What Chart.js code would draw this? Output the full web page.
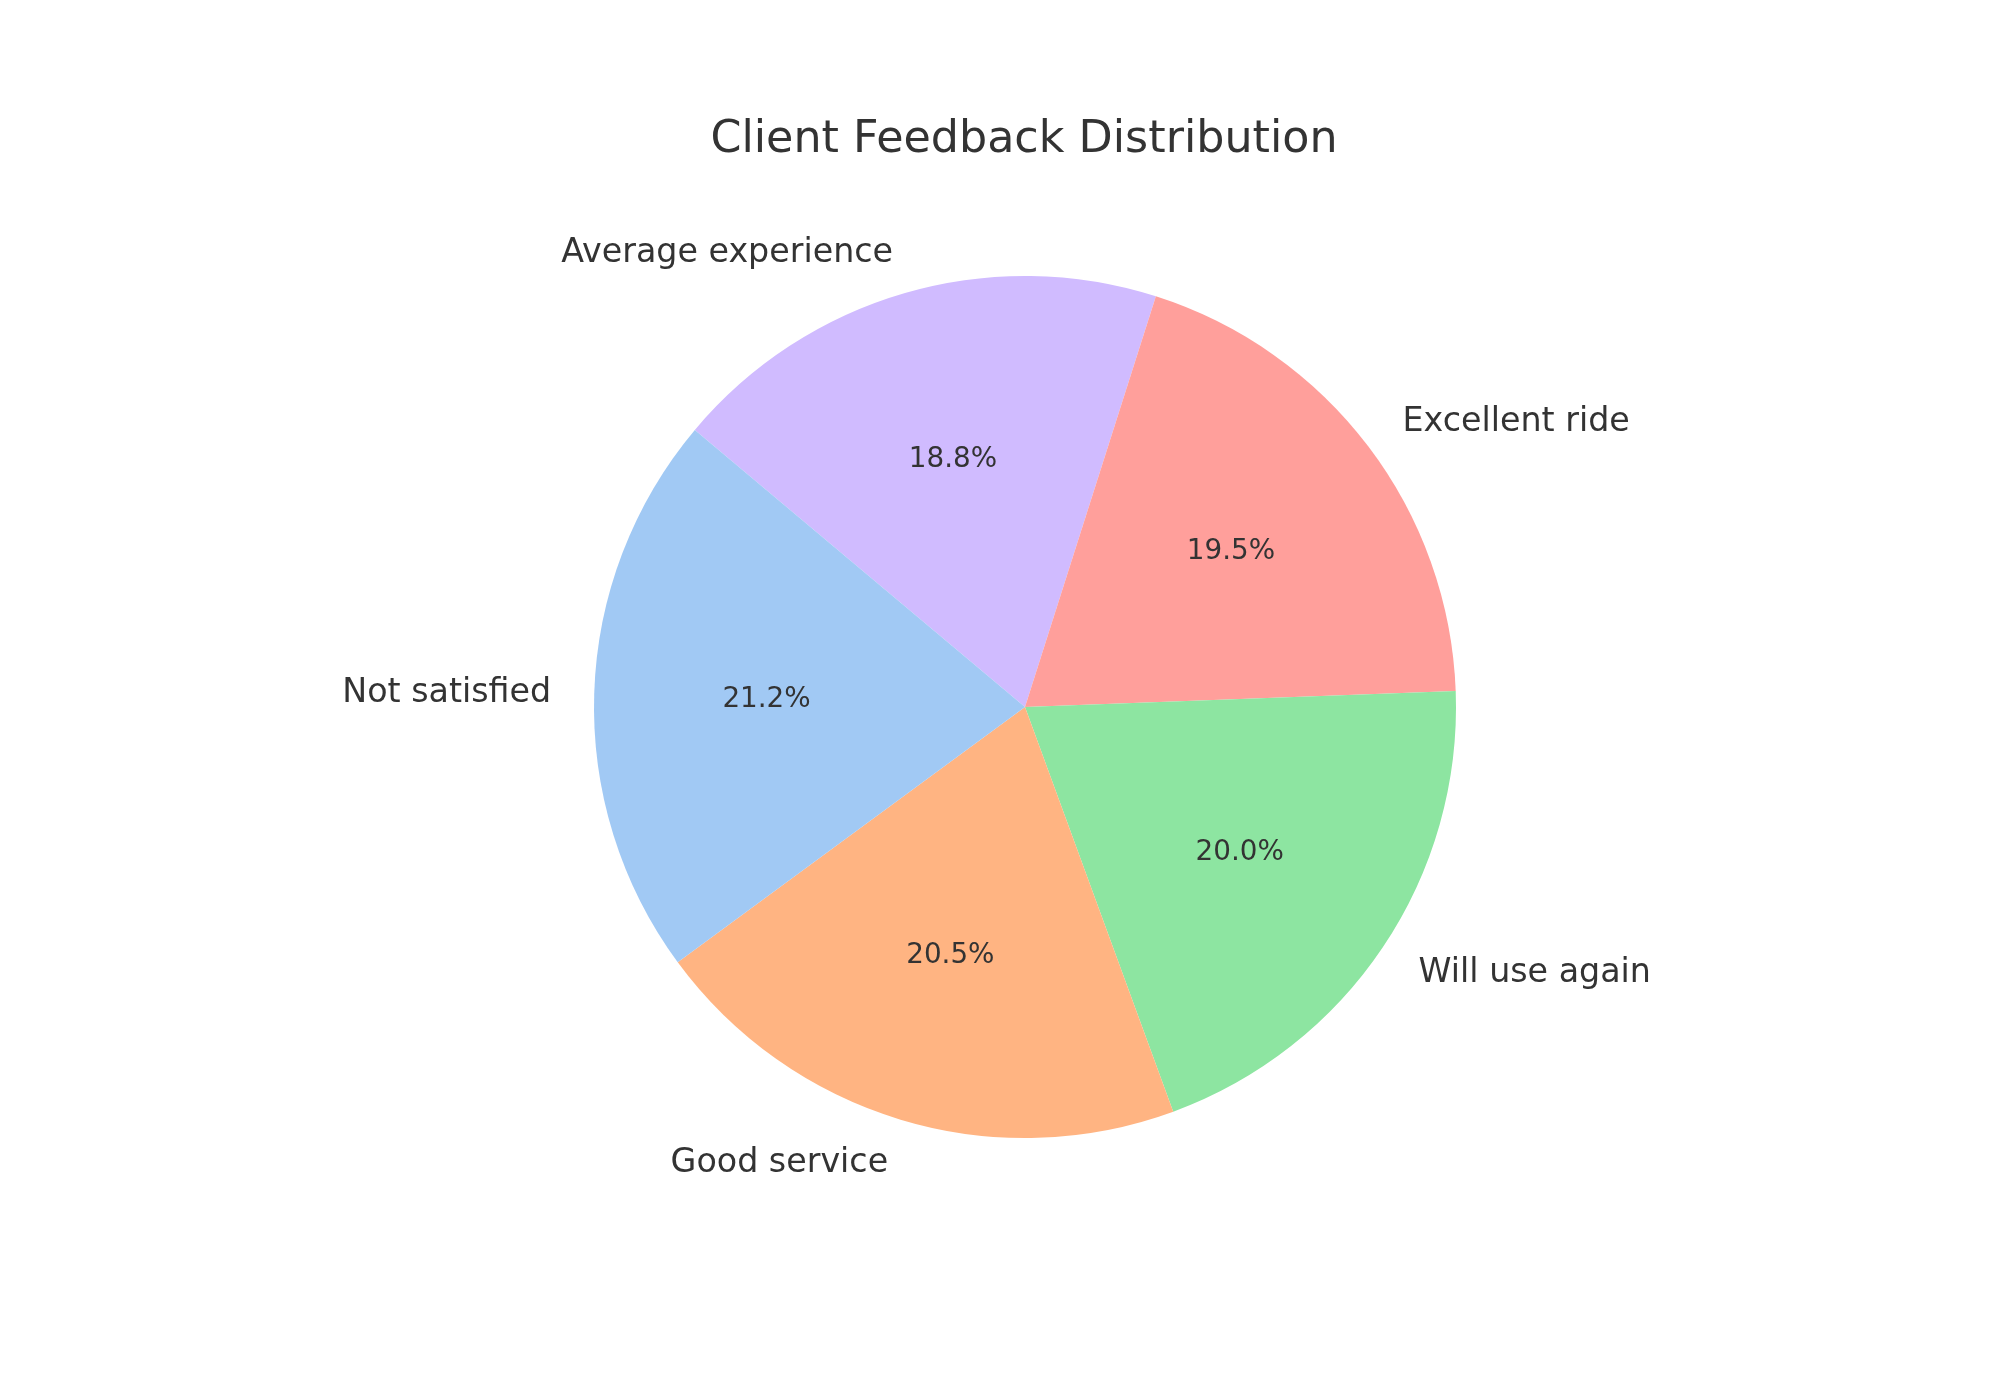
<!DOCTYPE html>
<html>
<head>
<meta charset="utf-8">
<script src="https://cdn.jsdelivr.net/npm/chart.js@4/dist/chart.umd.min.js"></script>
<style>
  html, body { margin: 0; padding: 0; background: #ffffff; }
  #wrap { width: 2000px; height: 1400px; position: relative; }
</style>
</head>
<body>
<div id="wrap"><canvas id="c" width="2000" height="1400"></canvas></div>
<script>
const chartTitle = "Client Feedback Distribution";
// matplotlib order (counter-clockwise from start angle)
const categories = ["Not satisfied", "Good service", "Will use again", "Excellent ride", "Average experience"];
const shares = [21.2, 20.5, 20.0, 19.5, 18.8];
const sliceColors = ["#a1c9f4", "#ffb482", "#8de5a1", "#ff9f9b", "#d0bbff"];

// Chart.js draws clockwise, so reverse the order to keep the same layout
const labelsCW = categories.slice().reverse();
const valuesCW = shares.slice().reverse();
const colorsCW = sliceColors.slice().reverse();

const textColor = "#333333";
const fontFamily = "'DejaVu Sans', sans-serif";

const textPlugin = {
  id: 'pieText',
  afterDatasetsDraw(chart) {
    const ctx = chart.ctx;
    const meta = chart.getDatasetMeta(0);
    const data = chart.data.datasets[0].data;
    const total = data.reduce((a, b) => a + b, 0);
    ctx.save();
    ctx.fillStyle = textColor;
    meta.data.forEach((arc, i) => {
      const p = arc.getProps(['x', 'y', 'startAngle', 'endAngle', 'outerRadius'], true);
      const mid = (p.startAngle + p.endAngle) / 2;
      const r = p.outerRadius;
      // category label at 1.1 r
      const lx = p.x + 1.1 * r * Math.cos(mid);
      const ly = p.y + 1.1 * r * Math.sin(mid) + 2;
      ctx.font = "33.3px " + fontFamily;
      ctx.textBaseline = 'middle';
      ctx.textAlign = Math.cos(mid) >= 0 ? 'left' : 'right';
      ctx.fillText(chart.data.labels[i], lx, ly);
      // percentage at 0.6 r
      const px = p.x + 0.6 * r * Math.cos(mid);
      const py = p.y + 0.6 * r * Math.sin(mid) + 1.5;
      ctx.font = "27.8px " + fontFamily;
      ctx.textAlign = 'center';
      ctx.fillText((data[i] / total * 100).toFixed(1) + "%", px, py);
    });
    // title
    ctx.font = "44.4px " + fontFamily;
    ctx.textAlign = 'center';
    ctx.textBaseline = 'alphabetic';
    ctx.fillText(chartTitle, 1024, 152);
    ctx.restore();
  }
};

new Chart(document.getElementById('c'), {
  type: 'pie',
  data: {
    labels: labelsCW,
    datasets: [{
      data: valuesCW,
      backgroundColor: colorsCW,
      borderWidth: 0,
      hoverOffset: 0
    }]
  },
  options: {
    responsive: false,
    animation: false,
    rotation: -50,
    layout: { padding: { top: 276, bottom: 262, left: 50, right: 0 } },
    plugins: {
      legend: { display: false },
      title: { display: false },
      tooltip: { enabled: false }
    },
    events: []
  },
  plugins: [textPlugin]
});
</script>
</body>
</html>
